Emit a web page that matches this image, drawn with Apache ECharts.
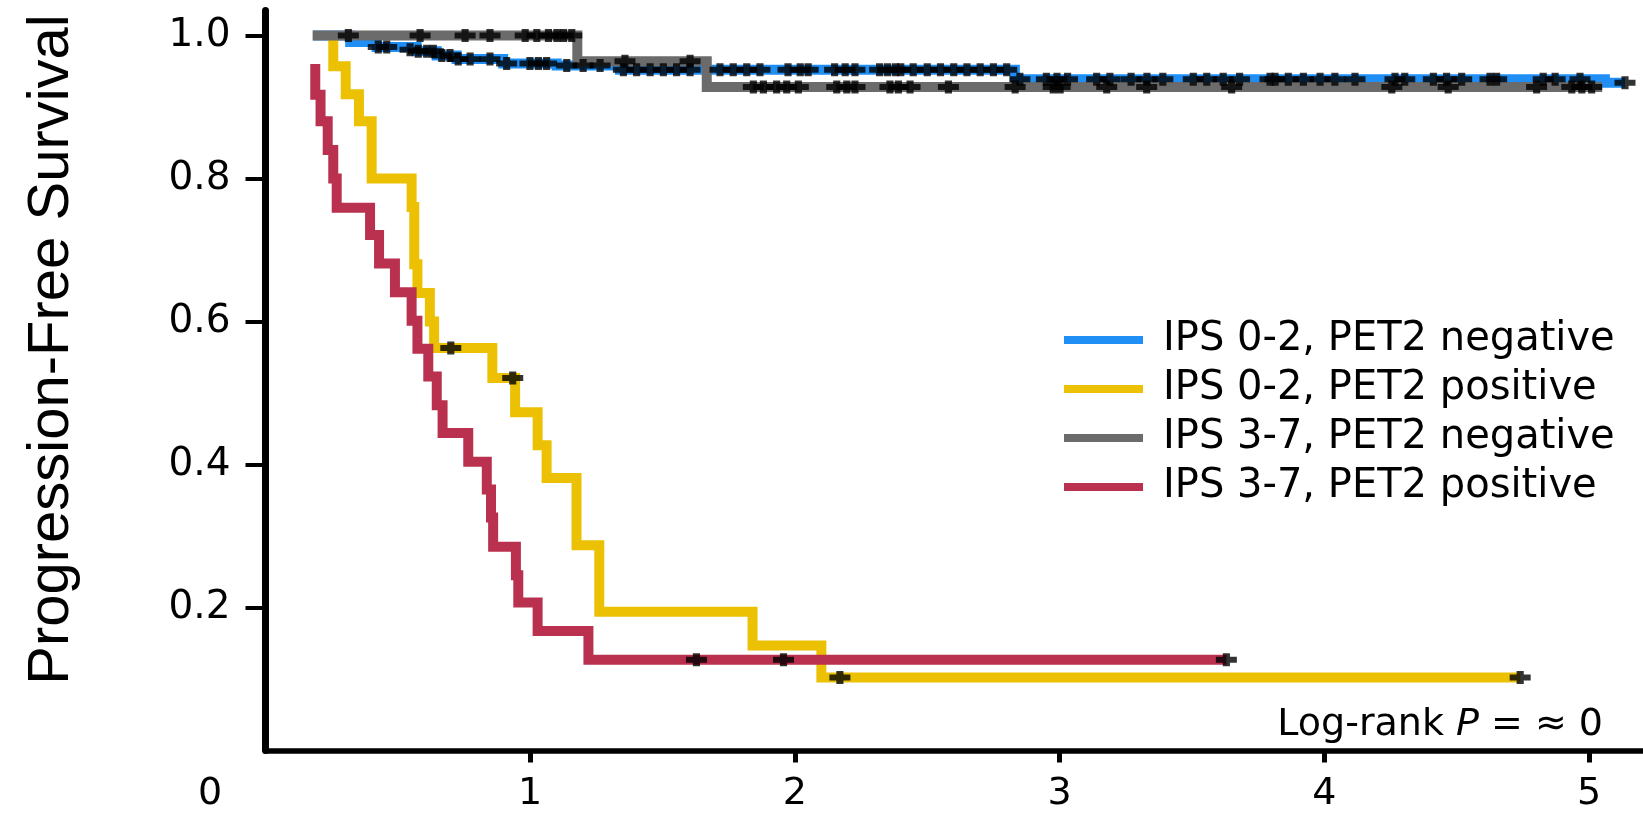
<!DOCTYPE html>
<html>
<head>
<meta charset="utf-8">
<script src="https://cdn.jsdelivr.net/npm/echarts@6/dist/echarts.min.js"></script>
<style>
  html, body { margin: 0; padding: 0; background: #fff; }
  #chart { width: 1643px; height: 814px; }
</style>
</head>
<body>
<div id="chart"></div>
<script>
// ---- data ----
const seriesNames = [
  'IPS 0-2, PET2 negative',
  'IPS 0-2, PET2 positive',
  'IPS 3-7, PET2 negative',
  'IPS 3-7, PET2 positive'
];
const seriesColors = ['#1f8ff5', '#ecc104', '#6b6b6b', '#ba3150'];

const xTickValues = [0, 1, 2, 3, 4, 5];
const yTickValues = [0.2, 0.4, 0.6, 0.8, 1.0];

// Kaplan-Meier steps: time of each step and survival after it
const blueTimes = [0.18, 0.32, 0.42, 0.571, 0.647, 0.722, 0.898, 1.10, 1.339, 2.831, 5.06, 5.136];
const blueSurv  = [1.0, 0.991, 0.984, 0.978, 0.972, 0.967, 0.961, 0.958, 0.952, 0.939, 0.934, 0.934];

const yellowTimes = [0.256, 0.256, 0.303, 0.353, 0.401, 0.552, 0.562, 0.574, 0.621, 0.637, 0.857, 0.943, 1.028, 1.062, 1.175, 1.261, 1.84, 2.10, 4.74];
const yellowSurv  = [1.0, 0.957, 0.918, 0.88, 0.80, 0.76, 0.68, 0.64, 0.60, 0.563, 0.521, 0.473, 0.427, 0.381, 0.287, 0.194, 0.147, 0.102, 0.102];

const grayTimes = [0.178, 1.178, 1.667, 5.05];
const graySurv  = [1.0, 0.964, 0.928, 0.928];

const redTimes = [0.188, 0.188, 0.208, 0.235, 0.256, 0.269, 0.395, 0.429, 0.489, 0.552, 0.574, 0.615, 0.647, 0.669, 0.766, 0.836, 0.852, 0.86, 0.946, 0.955, 1.028, 1.22, 3.63];
const redSurv  = [0.96, 0.917, 0.88, 0.84, 0.80, 0.759, 0.721, 0.681, 0.641, 0.601, 0.562, 0.523, 0.483, 0.444, 0.404, 0.365, 0.326, 0.285, 0.245, 0.207, 0.167, 0.127, 0.127];

// censored observations (time, survival)
const blueCensorTimes = [0.426, 0.458, 0.546, 0.577, 0.609, 0.634, 0.666, 0.697, 0.728, 0.773, 0.848, 0.911, 0.999, 1.031, 1.062, 1.138, 1.2, 1.264,
  1.352, 1.402, 1.453, 1.503, 1.553, 1.604, 1.717, 1.767, 1.818, 1.868, 1.974, 2.02, 2.05, 2.15, 2.19, 2.227, 2.32, 2.35, 2.38, 2.40, 2.447, 2.5, 2.55, 2.6, 2.65, 2.7, 2.75, 2.8,
  2.85, 2.95, 2.99, 3.03, 3.14, 3.19, 3.27, 3.33, 3.39, 3.505, 3.556, 3.618, 3.68, 3.795, 3.814, 3.864, 3.921, 3.984, 4.04, 4.116, 4.267, 4.304, 4.412, 4.462, 4.519, 4.626, 4.651, 4.827, 4.872, 4.966, 5.136];
const blueCensorSurv = [0.984, 0.984, 0.980, 0.978, 0.978, 0.978, 0.972, 0.972, 0.967, 0.967, 0.967, 0.961, 0.961, 0.961, 0.961, 0.958, 0.958, 0.958,
  0.952, 0.952, 0.952, 0.952, 0.952, 0.952, 0.952, 0.952, 0.952, 0.952, 0.952, 0.952, 0.952, 0.952, 0.952, 0.952, 0.952, 0.952, 0.952, 0.952, 0.952, 0.952, 0.952, 0.952, 0.952, 0.952, 0.952, 0.952,
  0.939, 0.939, 0.939, 0.939, 0.939, 0.939, 0.939, 0.939, 0.939, 0.939, 0.939, 0.939, 0.939, 0.939, 0.939, 0.939, 0.939, 0.939, 0.939, 0.939, 0.939, 0.939, 0.939, 0.939, 0.939, 0.939, 0.939, 0.939, 0.939, 0.939, 0.934];

const yellowCensorTimes = [0.70, 0.934, 2.17, 4.74];
const yellowCensorSurv  = [0.563, 0.521, 0.102, 0.102];

const grayCensorTimes = [0.313, 0.584, 0.754, 0.848, 0.981, 1.025, 1.069, 1.101, 1.126, 1.157, 1.358, 1.604,
  1.843, 1.881, 1.931, 1.969, 2.013, 2.158, 2.196, 2.227, 2.359, 2.391, 2.435, 2.58, 2.832, 2.976, 3.002, 3.178, 3.329, 3.65, 4.255, 4.468, 4.802, 4.935, 4.973, 5.01];
const grayCensorSurv = [1.0, 1.0, 1.0, 1.0, 1.0, 1.0, 1.0, 1.0, 1.0, 1.0, 0.964, 0.964,
  0.928, 0.928, 0.928, 0.928, 0.928, 0.928, 0.928, 0.928, 0.928, 0.928, 0.928, 0.928, 0.928, 0.928, 0.928, 0.928, 0.928, 0.928, 0.928, 0.928, 0.928, 0.928, 0.928, 0.928];

const redCensorTimes = [1.628, 1.957, 3.63];
const redCensorSurv  = [0.127, 0.127, 0.127];

const yAxisTitle = 'Progression-Free Survival';
const pValueText = 'Log-rank {i|P} = ≈ 0';

// ---- build chart ----
const zip = (a, b) => a.map((v, i) => [v, b[i]]);
const plusPath = 'path://M0,27 L33,27 L33,0 L67,0 L67,27 L100,27 L100,73 L67,73 L67,100 L33,100 L33,73 L0,73 Z';
const mainFont = 'DejaVu Sans';

const curves = [
  zip(blueTimes, blueSurv),
  zip(yellowTimes, yellowSurv),
  zip(grayTimes, graySurv),
  zip(redTimes, redSurv)
];
const censors = [
  zip(blueCensorTimes, blueCensorSurv),
  zip(yellowCensorTimes, yellowCensorSurv),
  zip(grayCensorTimes, grayCensorSurv),
  zip(redCensorTimes, redCensorSurv)
];

const series = [];
seriesNames.forEach((name, i) => {
  series.push({
    name: name,
    type: 'line',
    step: 'end',
    data: curves[i],
    showSymbol: false,
    symbol: 'none',
    color: seriesColors[i],
    lineStyle: { width: 10, color: seriesColors[i], cap: 'butt', join: 'miter' },
    z: 2 + i,
    animation: false,
    silent: true
  });
});
seriesNames.forEach((name, i) => {
  series.push({
    name: name + ' censored',
    type: 'scatter',
    data: censors[i],
    symbol: plusPath,
    symbolSize: [21, 13],
    itemStyle: { color: '#000' },
    z: 10,
    animation: false,
    silent: true
  });
});

const chart = echarts.init(document.getElementById('chart'), null, { renderer: 'canvas' });
chart.setOption({
  backgroundColor: '#ffffff',
  animation: false,
  grid: { left: 265.5, right: 0, top: 10.5, bottom: 63.5, containLabel: false, outerBoundsMode: 'none' },
  xAxis: {
    type: 'value',
    min: 0,
    max: 5.204,
    splitLine: { show: false },
    axisLine: { show: true, onZero: false, lineStyle: { color: '#000', width: 5.5 } },
    axisTick: { show: true, customValues: xTickValues.slice(1), length: 12, lineStyle: { color: '#000', width: 5 } },
    axisLabel: {
      show: true,
      customValues: xTickValues,
      margin: 25,
      color: '#000',
      fontFamily: mainFont,
      fontSize: 38,
      formatter: v => (v === 0 ? '{z|0}' : String(v)),
      rich: { z: { fontFamily: mainFont, fontSize: 38, color: '#000', padding: [0, 111, 0, 0] } }
    }
  },
  yAxis: {
    type: 'value',
    min: 0,
    max: 1.035,
    splitLine: { show: false },
    axisLine: { show: true, onZero: false, lineStyle: { color: '#000', width: 7 } },
    axisTick: { show: true, customValues: yTickValues, length: 20, lineStyle: { color: '#000', width: 4 } },
    axisLabel: {
      show: true,
      customValues: yTickValues,
      margin: 35,
      color: '#000',
      fontFamily: mainFont,
      fontSize: 39,
      formatter: v => v.toFixed(1)
    },
    name: yAxisTitle,
    nameLocation: 'middle',
    nameRotate: 90,
    nameGap: 185,
    nameTextStyle: {
      color: '#000',
      fontFamily: "'Liberation Sans', Arial, sans-serif",
      fontSize: 58,
      padding: [0, 0, 0, 62]
    }
  },
  legend: {
    show: true,
    data: seriesNames,
    orient: 'vertical',
    left: 1064,
    top: 320,
    padding: 0,
    itemGap: 9,
    itemWidth: 79,
    itemHeight: 8,
    icon: 'rect',
    selectedMode: false,
    textStyle: { color: '#000', fontFamily: mainFont, fontSize: 40, lineHeight: 40, padding: [0, 0, 0, 15] }
  },
  graphic: [{
    type: 'text',
    right: 40,
    top: 706,
    style: {
      text: pValueText,
      fill: '#000',
      font: '38px "DejaVu Sans"',
      rich: { i: { fontStyle: 'italic', fontFamily: mainFont, fontSize: 38, fill: '#000' } }
    }
  }],
  series: series
});
</script>
</body>
</html>
